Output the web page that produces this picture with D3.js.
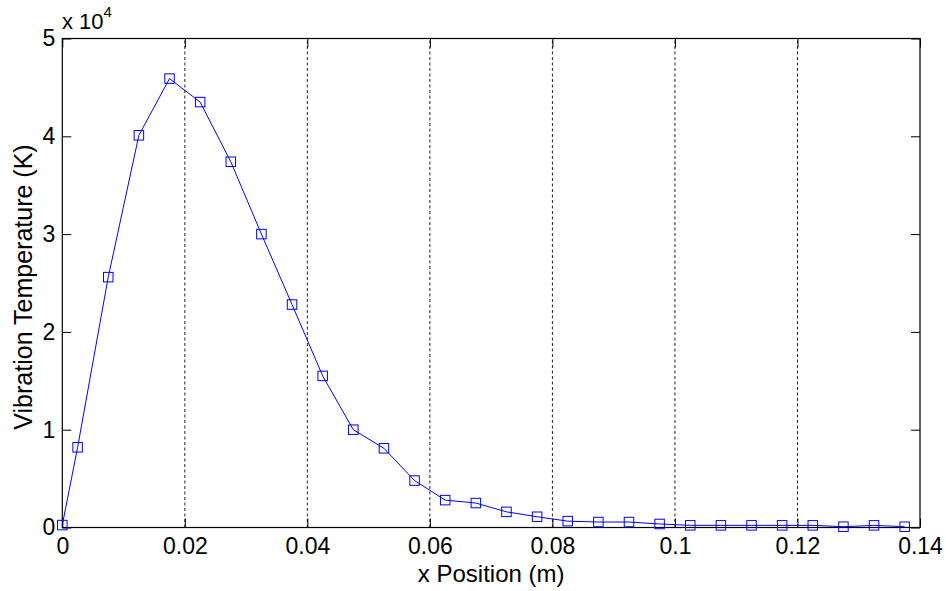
<!DOCTYPE html>
<html>
<head>
<meta charset="utf-8">
<script src="https://cdn.jsdelivr.net/npm/d3@7"></script>
<style>
  html, body { margin: 0; padding: 0; background: #fff; }
  svg { display: block; }
  text { font-family: "Liberation Sans", Arial, sans-serif; fill: #000; }
</style>
</head>
<body>
<svg id="chart" width="946" height="591"></svg>
<script>
// Sample positions along x (m)
const xPositions = [0, 0.0025, 0.0075, 0.0125, 0.0175, 0.0225, 0.0275, 0.0325, 0.0375, 0.0425,
  0.0475, 0.0525, 0.0575, 0.0625, 0.0675, 0.0725, 0.0775, 0.0825, 0.0875, 0.0925,
  0.0975, 0.1025, 0.1075, 0.1125, 0.1175, 0.1225, 0.1275, 0.1325, 0.1375];
// Vibration temperature (K)
const vibTemp = [250, 8200, 25600, 40100, 45900, 43500, 37400, 30000, 22800, 15500,
  10000, 8100, 4800, 2800, 2500, 1600, 1100, 650, 560, 560,
  360, 220, 220, 220, 220, 220, 80, 220, 80];
const xTicks = [0, 0.02, 0.04, 0.06, 0.08, 0.1, 0.12, 0.14];
const xTickLabels = ["0", "0.02", "0.04", "0.06", "0.08", "0.1", "0.12", "0.14"];
const yTicks = [0, 10000, 20000, 30000, 40000, 50000];
const yTickLabels = ["0", "1", "2", "3", "4", "5"];
const xGrid = [0.02, 0.04, 0.06, 0.08, 0.1, 0.12];

const svg = d3.select("#chart");
const margin = { left: 62.3, right: 26, top: 38.5, bottom: 63.5 };
const W = 946, H = 591;
const x = d3.scaleLinear().domain([0, 0.14]).range([margin.left, W - margin.right]);
const y = d3.scaleLinear().domain([0, 50000]).range([H - margin.bottom, margin.top]);

const x0 = x.range()[0], x1 = x.range()[1], y0 = y.range()[0], y1 = y.range()[1];
const tickLen = 9;
const fontSize = 23;

// dashed vertical grid
svg.append("g").selectAll("line").data(xGrid).join("line")
  .attr("x1", d => x(d)).attr("x2", d => x(d))
  .attr("y1", y0).attr("y2", y1)
  .attr("stroke", "#222").attr("stroke-width", 1)
  .attr("stroke-dasharray", "3,2.5");

// bottom axis (ticks pointing inward)
const xAxis = d3.axisBottom(x).tickValues(xTicks)
  .tickFormat((d, i) => xTickLabels[i]).tickSize(-tickLen).tickPadding(10).tickSizeOuter(0);
const gx = svg.append("g").attr("transform", `translate(0,${y0})`).call(xAxis);
gx.select(".domain").remove();
gx.selectAll("line").attr("stroke", "#000");
gx.selectAll("text").attr("font-size", fontSize).style("font-family", "Liberation Sans, Arial, sans-serif");

// top mirrored ticks
const xTop = d3.axisTop(x).tickValues(xTicks).tickFormat("").tickSize(-tickLen).tickSizeOuter(0);
const gxt = svg.append("g").attr("transform", `translate(0,${y1})`).call(xTop);
gxt.select(".domain").remove();
gxt.selectAll("line").attr("stroke", "#000");

// left axis
const yAxis = d3.axisLeft(y).tickValues(yTicks)
  .tickFormat((d, i) => yTickLabels[i]).tickSize(-tickLen).tickPadding(7).tickSizeOuter(0);
const gy = svg.append("g").attr("transform", `translate(${x0},0)`).call(yAxis);
gy.select(".domain").remove();
gy.selectAll("line").attr("stroke", "#000");
gy.selectAll("text").attr("font-size", fontSize).style("font-family", "Liberation Sans, Arial, sans-serif");

// right mirrored ticks
const yRight = d3.axisRight(y).tickValues(yTicks).tickFormat("").tickSize(-tickLen).tickSizeOuter(0);
const gyr = svg.append("g").attr("transform", `translate(${x1},0)`).call(yRight);
gyr.select(".domain").remove();
gyr.selectAll("line").attr("stroke", "#000");

// frame
svg.append("rect").attr("x", x0).attr("y", y1)
  .attr("width", x1 - x0).attr("height", y0 - y1)
  .attr("fill", "none").attr("stroke", "#000").attr("stroke-width", 1.2);

// data line
const pts = xPositions.map((d, i) => [d, vibTemp[i]]);
svg.append("path").datum(pts)
  .attr("fill", "none").attr("stroke", "#0000ff").attr("stroke-width", 1)
  .attr("d", d3.line().x(d => x(d[0])).y(d => y(d[1])));

// square markers
const ms = 9.5;
svg.append("g").selectAll("rect").data(pts).join("rect")
  .attr("x", d => x(d[0]) - ms / 2).attr("y", d => y(d[1]) - ms / 2)
  .attr("width", ms).attr("height", ms)
  .attr("fill", "none").attr("stroke", "#0000ff").attr("stroke-width", 1);

// exponent label
const expo = svg.append("text").attr("x", 62).attr("y", 29).attr("font-size", fontSize - 1);
expo.append("tspan").text("x 10");
expo.append("tspan").attr("dy", -12).attr("font-size", 15).text("4");

// axis titles
svg.append("text").attr("x", (x0 + x1) / 2).attr("y", 582)
  .attr("text-anchor", "middle").attr("font-size", 24).text("x Position (m)");
svg.append("text")
  .attr("transform", `translate(31.5,287) rotate(-90)`)
  .attr("text-anchor", "middle").attr("font-size", 25).text("Vibration Temperature (K)");
</script>
</body>
</html>
